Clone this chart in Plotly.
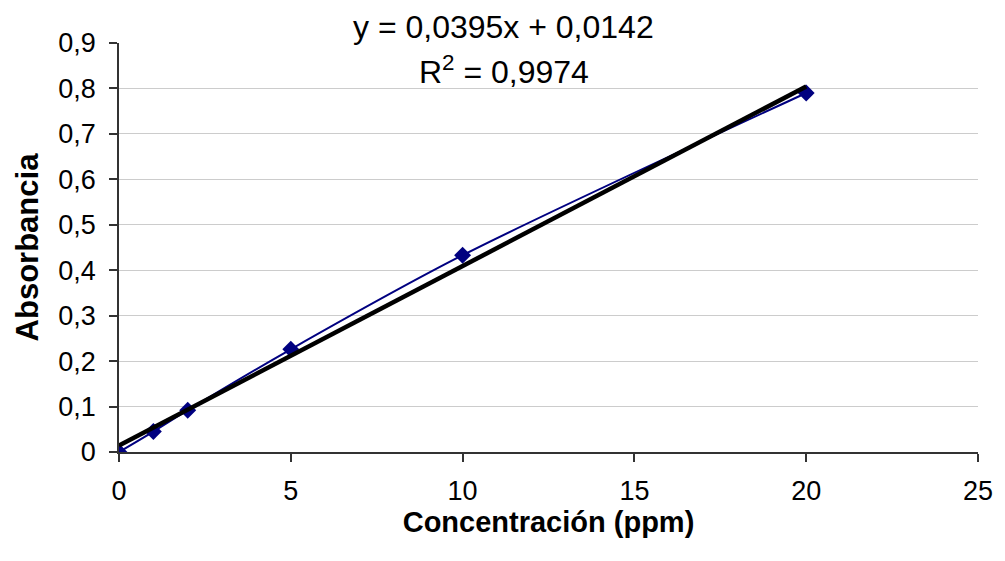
import plotly.graph_objects as go

# Data
concentracion = [0, 1, 2, 5, 10, 20]
absorbancia = [0.0, 0.045, 0.092, 0.226, 0.433, 0.790]
pendiente = 0.0395
intercepto = 0.0142
r2 = 0.9974
x_ticks = [0, 5, 10, 15, 20, 25]
y_ticks = [0, 0.1, 0.2, 0.3, 0.4, 0.5, 0.6, 0.7, 0.8, 0.9]
y_tick_labels = ["0", "0,1", "0,2", "0,3", "0,4", "0,5", "0,6", "0,7", "0,8", "0,9"]

FONT = "Liberation Sans, Arial, sans-serif"

fig = go.Figure()

fig.add_trace(go.Scatter(
    x=concentracion, y=absorbancia, mode="lines+markers",
    line=dict(color="#000080", width=2, shape="spline", smoothing=0.8),
    marker=dict(symbol="diamond", size=13, color="#000080"),
    showlegend=False, hoverinfo="skip",
))

trend_x = [concentracion[0], concentracion[-1]]
trend_y = [pendiente * v + intercepto for v in trend_x]
fig.add_trace(go.Scatter(
    x=trend_x, y=trend_y, mode="lines",
    line=dict(color="#000000", width=4.5),
    showlegend=False, hoverinfo="skip",
))

ann_font = dict(family=FONT, size=32, color="#000000")

fig.update_layout(
    width=1005, height=561,
    margin=dict(l=119, r=24, t=43, b=109),
    paper_bgcolor="#ffffff", plot_bgcolor="#ffffff",
    font=dict(family=FONT, color="#000000"),
    xaxis=dict(
        range=[0, 25], tickvals=x_ticks, ticktext=[str(v) for v in x_ticks],
        showgrid=False, zeroline=False,
        showline=True, linecolor="#333333", linewidth=1.5,
        ticks="outside", ticklen=8, tickcolor="#333333", tickwidth=1.5,
        ticklabelstandoff=6,
        tickfont=dict(family=FONT, size=27, color="#000000"),
        title=dict(text="<b>Concentración (ppm)</b>",
                   font=dict(family=FONT, size=29, color="#000000"), standoff=2),
    ),
    yaxis=dict(
        range=[0, 0.9], tickvals=y_ticks, ticktext=y_tick_labels,
        showgrid=True, gridcolor="#cccccc", gridwidth=1, zeroline=False,
        showline=True, linecolor="#333333", linewidth=1.5,
        ticks="outside", ticklen=8, tickcolor="#333333", tickwidth=1.5,
        ticklabelstandoff=8,
        tickfont=dict(family=FONT, size=27, color="#000000"),
        title=dict(text="<b>Absorbancia</b>",
                   font=dict(family=FONT, size=31, color="#000000"), standoff=10),
    ),
)

fig.add_annotation(
    x=(505 - 119) / (981 - 119), xref="paper", y=1 + (43 - 27) / 409, yref="paper",
    yanchor="middle", xanchor="center",
    text=f"y = {str(pendiente).replace('.', ',')}x + {str(intercepto).replace('.', ',')}",
    showarrow=False, font=ann_font,
)
fig.add_annotation(
    x=(505 - 119) / (981 - 119), xref="paper", y=1 - (70 - 43) / 409, yref="paper",
    yanchor="middle", xanchor="center",
    text=f"R<sup>2</sup> = {str(r2).replace('.', ',')}",
    showarrow=False, font=ann_font,
)

fig.write_html("out.html")
